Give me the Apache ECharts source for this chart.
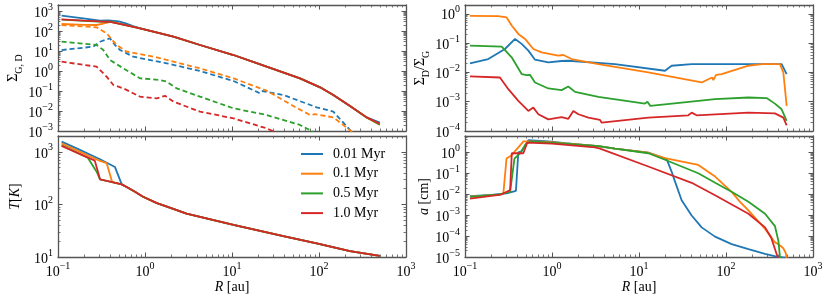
<!DOCTYPE html>
<html><head><meta charset="utf-8">
<script src="https://cdn.jsdelivr.net/npm/echarts@6/dist/echarts.min.js"></script>
<style>html,body{margin:0;padding:0;background:#fff}#c{width:830px;height:296px}</style>
</head><body><div id="c"></div>
<script>
// ---------- data ----------
const timeLabels = ['0.01 Myr', '0.1 Myr', '0.5 Myr', '1.0 Myr'];
const xDecades = [0.1, 1, 10, 100, 1000];
const sigmaTicks = [1e-3, 1e-2, 1e-1, 1, 10, 100, 1000];
const ratioTicks = [1e-4, 1e-3, 1e-2, 1e-1, 1];
const tempTicks = [10, 100, 1000];
const sizeTicks = [1e-5, 1e-4, 1e-3, 1e-2, 1e-1, 1];

// gas surface density (solid), [R au, Sigma_G]
const gas001 = [[0.11,586],[0.195,431],[0.304,330],[0.38,340],[0.5,300],[0.6,240],[0.73,175],[0.88,136],[2.12,52],[4.29,20],[10.4,6.3],[25,1.65],[60.5,0.43],[103,0.153],[146,0.063],[227,0.0178],[353,0.0048],[500,0.0026]];
const gas01 = [[0.11,224],[0.2,205],[0.278,200],[0.33,235],[0.4,290],[0.5,234],[0.88,136],[2.12,52],[4.29,20],[10.4,6.3],[25,1.65],[60.5,0.43],[103,0.153],[146,0.063],[227,0.0178],[353,0.0047],[500,0.0020]];
const gas05 = [[0.11,370],[0.2,325],[0.3,298],[0.4,291],[0.5,234],[0.88,136],[2.12,52],[4.29,20],[10.4,6.3],[25,1.65],[60.5,0.43],[103,0.153],[146,0.063],[227,0.0178],[353,0.0047],[500,0.0021]];
const gas1 = [[0.11,384],[0.2,330],[0.3,300],[0.4,290],[0.5,234],[0.88,136],[2.12,52],[4.29,20],[10.4,6.3],[25,1.65],[60.5,0.43],[103,0.153],[146,0.063],[227,0.0178],[353,0.0048],[500,0.0023]];
// dust surface density (dashed), [R au, Sigma_D]
const dust001 = [[0.11,11.2],[0.255,16.5],[0.304,29],[0.396,43],[0.452,20],[0.516,11.2],[0.734,5.2],[1.78,2.42],[4.29,1.0],[10.4,0.317],[21,0.077],[22.5,0.1],[38.9,0.063],[94,0.0153],[146,0.0093],[227,0.00112],[300,0.0004]];
const dust01 = [[0.11,200],[0.278,153],[0.362,76.6],[0.472,20],[0.615,9.3],[0.877,7],[1.36,4.8],[4.29,1.36],[10.4,0.43],[25,0.104],[50.7,0.0178],[78.8,0.0063],[90,0.0069],[146,0.0048],[227,0.0011],[290,0.0004]];
const dust05 = [[0.11,29.4],[0.278,20],[0.332,11.2],[0.396,3.56],[0.564,1.36],[0.877,0.43],[1.49,0.356],[1.78,0.294],[2.31,0.136],[4.29,0.0522],[10.4,0.0136],[25,0.0063],[60.5,0.002],[86,0.0009]];
const dust1 = [[0.11,2.94],[0.278,1.65],[0.362,0.52],[0.433,0.2],[0.564,0.136],[0.877,0.0522],[1.36,0.0425],[1.70,0.0575],[2.12,0.0294],[4.29,0.0093],[10.4,0.0043],[25,0.00136],[32.6,0.0008]];
// dust-to-gas ratio
const ratio001 = [[0.114,0.0204],[0.185,0.0286],[0.288,0.063],[0.376,0.139],[0.448,0.094],[0.535,0.0553],[0.638,0.0272],[0.908,0.022],[1.29,0.0245],[1.54,0.025],[5.3,0.0193],[19.9,0.0114],[23.7,0.0169],[40.3,0.0193],[436,0.0193],[498,0.0088]];
const ratio01 = [[0.114,0.85],[0.241,0.83],[0.301,0.75],[0.344,0.40],[0.41,0.206],[0.49,0.139],[0.61,0.063],[0.76,0.0485],[1.18,0.0373],[1.35,0.0393],[1.68,0.0286],[3.41,0.0193],[12.8,0.01],[52.5,0.00454],[69,0.0067],[71.5,0.0055],[77,0.0082],[89.2,0.00877],[181,0.0169],[257,0.0193],[417,0.0193],[456,0.01],[498,0.00072]];
const ratio05 = [[0.114,0.082],[0.264,0.076],[0.344,0.0327],[0.448,0.00877],[0.512,0.0081],[0.558,0.0083],[0.638,0.00454],[0.908,0.00283],[1.29,0.00248],[1.54,0.0033],[1.84,0.00217],[3.41,0.00146],[11.7,0.000865],[12.5,0.00099],[13.5,0.00072],[30.9,0.000936],[74.8,0.00122],[181,0.00139],[293,0.00133],[365,0.00086],[436,0.00055],[498,0.00022]];
const ratio1 = [[0.114,0.0073],[0.252,0.0067],[0.315,0.00268],[0.41,0.00107],[0.535,0.000485],[0.61,0.00063],[0.697,0.000373],[0.908,0.00025],[1.29,0.0003],[1.54,0.00026],[1.76,0.000485],[2.01,0.000373],[2.62,0.000286],[3.56,0.000238],[3.73,0.000193],[12.8,0.000286],[36.9,0.000344],[40.3,0.000425],[46,0.000344],[181,0.000425],[365,0.0004],[456,0.000286],[498,0.000156]];
// temperature
const temp001 = [[0.11,1563],[0.164,1161],[0.304,721],[0.452,513],[0.54,240],[0.615,215],[0.75,178],[0.95,140],[1.37,106],[2.0,85],[3.0,67],[10.4,41],[38.9,25],[94,18.1],[227,12.9],[500,10.5]];
const temp01 = [[0.11,1449],[0.304,670],[0.362,612],[0.42,265],[0.54,240],[0.615,215],[0.75,178],[0.95,140],[1.37,106],[2.0,85],[3.0,67],[10.4,41],[38.9,25],[94,18.1],[227,12.9],[500,10.5]];
const temp05 = [[0.11,1330],[0.22,770],[0.278,420],[0.304,300],[0.42,265],[0.54,240],[0.615,215],[0.75,178],[0.95,140],[1.37,106],[2.0,85],[3.0,67],[10.4,41],[38.9,25],[94,18.1],[227,12.9],[500,10.5]];
const temp1 = [[0.11,1300],[0.265,680],[0.304,300],[0.42,265],[0.54,240],[0.615,215],[0.75,178],[0.95,140],[1.37,106],[2.0,85],[3.0,67],[10.4,41],[38.9,25],[94,18.1],[227,12.9],[500,10.5]];
// particle size
const size001 = [[0.114,0.008],[0.2,0.0092],[0.3,0.0108],[0.385,0.0145],[0.41,1.0],[0.448,1.12],[0.535,3.8],[0.908,3.3],[1.41,2.7],[3.41,1.95],[5.3,1.5],[12.8,0.97],[20.8,0.47],[23.7,0.12],[25.6,0.047],[30.9,0.0051],[40.3,0.00096],[52.5,0.00026],[74.8,9.4e-5],[116,4.1e-5],[181,2.35e-5],[281,1.4e-5],[382,1.05e-5],[500,9e-6]];
const size01 = [[0.114,0.0077],[0.25,0.0096],[0.276,0.0108],[0.30,0.5],[0.34,0.7],[0.47,3.3],[0.55,3.3],[0.908,3.1],[1.41,2.65],[3.41,1.95],[5.3,1.5],[12.8,0.95],[19.9,0.53],[48,0.25],[75,0.069],[116,0.0128],[145,0.0043],[181,0.00168],[281,0.00022],[365,5e-5],[400,4.1e-5],[456,2.6e-5],[485,1.6e-5],[500,9e-6]];
const size05 = [[0.114,0.0074],[0.25,0.0098],[0.276,0.0108],[0.33,0.013],[0.37,0.5],[0.43,0.9],[0.5,2.5],[0.56,3.2],[0.908,3.0],[1.41,2.6],[3.41,1.95],[5.3,1.5],[12.8,0.9],[19.9,0.44],[30.9,0.21],[48,0.1],[75,0.035],[116,0.013],[181,0.0043],[281,0.00116],[365,0.0003],[400,6e-5],[417,1e-5],[430,5e-6]];
const size1 = [[0.114,0.0062],[0.26,0.0096],[0.33,0.0156],[0.345,0.9],[0.468,0.9],[0.52,2.9],[1.0,2.6],[3.12,1.7],[3.5,1.55],[12.8,0.21],[40.3,0.035],[74.8,0.0089],[181,0.00116],[281,0.00026],[330,8.6e-5],[392,1e-5],[410,7e-6]];

const gasSets = [gas001, gas01, gas05, gas1];
const dustSets = [dust001, dust01, dust05, dust1];
const ratioSets = [ratio001, ratio01, ratio05, ratio1];
const tempSets = [temp001, temp01, temp05, temp1];
const sizeSets = [size001, size01, size05, size1];

// ---------- styling ----------
const colors = ['#1f77b4', '#ff7f0e', '#2ca02c', '#d62728'];
const FONT = '"Liberation Serif", "DejaVu Serif", serif';
const FRAME = '#555';
const supRich = {
  b: {fontFamily: FONT, fontSize: 14, color: '#000', lineHeight: 18, verticalAlign: 'bottom'},
  s: {fontFamily: FONT, fontSize: 10, color: '#000', lineHeight: 10, verticalAlign: 'top'}
};
const nameRich = {
  m: {fontFamily: FONT, fontSize: 14, color: '#000', lineHeight: 18, verticalAlign: 'top'},
  i: {fontFamily: FONT, fontSize: 14, color: '#000', fontStyle: 'italic', lineHeight: 18, verticalAlign: 'top'},
  sub: {fontFamily: FONT, fontSize: 10, color: '#000', lineHeight: 10, verticalAlign: 'bottom'}
};
function sup(v) {
  const e = Math.round(Math.log10(v));
  return '{b|10}{s|' + (e < 0 ? '\u2212' + (-e) : String(e)) + '}';
}
function minorOf(major, min, max) {
  const out = [];
  major.forEach(d => { for (let k = 2; k <= 9; k++) out.push(+(k * d).toPrecision(3)); });
  return out.filter(v => v > min * 1.0001 && v < max * 0.9999);
}

const grids = [
  {left: 58, top: 5, width: 348, height: 126},
  {left: 465, top: 5, width: 348, height: 126},
  {left: 58, top: 136, width: 348, height: 121},
  {left: 465, top: 136, width: 348, height: 121}
].map(g => Object.assign({containLabel: false, outerBoundsMode: 'none'}, g));

const xAxes = [], yAxes = [];
function addAxes(list, dim, g, min, max, major, showLabels, name, nameGap) {
  const posA = dim === 'x' ? 'bottom' : 'left';
  const posB = dim === 'x' ? 'top' : 'right';
  const minor = minorOf(major, min, max);
  const base = {type: 'log', logBase: 10, gridIndex: g, min: min, max: max,
    splitLine: {show: false}, splitArea: {show: false}, minorTick: {show: false}, minorSplitLine: {show: false}, silent: true};
  const frameLine = {show: true, onZero: false, lineStyle: {color: FRAME, width: 1.3}};
  const majorTick = {show: true, inside: true, length: 4.5, customValues: major, lineStyle: {color: FRAME, width: 1}};
  const minorTick = {show: true, inside: true, length: 2.5, customValues: minor, lineStyle: {color: FRAME, width: 0.8}};
  const start = list.length;
  list.push(Object.assign({}, base, {position: posA, axisLine: frameLine, axisTick: majorTick,
    axisLabel: {show: showLabels, customValues: major, formatter: sup, rich: supRich, margin: dim === 'x' ? 4 : 5},
    name: name || '', nameLocation: 'middle', nameGap: nameGap || 0,
    nameTextStyle: {fontFamily: FONT, fontSize: 14, color: '#000', rich: nameRich}}));
  list.push(Object.assign({}, base, {position: posB, axisLine: frameLine, axisTick: majorTick, axisLabel: {show: false}}));
  list.push(Object.assign({}, base, {position: posA, axisLine: {show: false}, axisTick: minorTick, axisLabel: {show: false}}));
  list.push(Object.assign({}, base, {position: posB, axisLine: {show: false}, axisTick: minorTick, axisLabel: {show: false}}));
  return start;
}

const xIdx = [], yIdx = [];
xIdx[0] = addAxes(xAxes, 'x', 0, 0.1, 1000, xDecades, false);
xIdx[1] = addAxes(xAxes, 'x', 1, 0.1, 1000, xDecades, false);
xIdx[2] = addAxes(xAxes, 'x', 2, 0.1, 1000, xDecades, true, '{i|R}{m| [au]}', 16);
xIdx[3] = addAxes(xAxes, 'x', 3, 0.1, 1000, xDecades, true, '{i|R}{m| [au]}', 16);
yIdx[0] = addAxes(yAxes, 'y', 0, 1e-3, 2000, sigmaTicks, true, '{m|\u03A3}{sub|G, D}', 30);
yIdx[1] = addAxes(yAxes, 'y', 1, 1e-4, 2, ratioTicks, true, '{m|\u03A3}{sub|D}{m|/\u03A3}{sub|G}', 28);
yIdx[2] = addAxes(yAxes, 'y', 2, 10, 2000, tempTicks, true, '{i|T}{m|[}{i|K}{m|]}', 32);
yIdx[3] = addAxes(yAxes, 'y', 3, 1e-5, 6, sizeTicks, true, '{i|a}{m| [cm]}', 30);

const series = [];
function addLine(g, name, data, color, dashed) {
  series.push({type: 'line', name: name, xAxisIndex: xIdx[g], yAxisIndex: yIdx[g], data: data,
    showSymbol: false, symbol: 'none', clip: true, smooth: false, silent: true,
    lineStyle: {color: color, width: 1.8, type: dashed ? [5, 3] : 'solid'}, itemStyle: {color: color}});
}
for (let i = 0; i < 4; i++) {
  addLine(0, timeLabels[i], gasSets[i], colors[i], false);
  addLine(0, timeLabels[i], dustSets[i], colors[i], true);
}
for (let i = 0; i < 4; i++) addLine(1, timeLabels[i], ratioSets[i], colors[i], false);
for (let i = 0; i < 4; i++) addLine(2, timeLabels[i], tempSets[i], colors[i], false);
for (let i = 0; i < 4; i++) addLine(3, timeLabels[i], sizeSets[i], colors[i], false);

const chart = echarts.init(document.getElementById('c'), null, {renderer: 'canvas'});
chart.setOption({
  animation: false,
  backgroundColor: '#fff',
  grid: grids,
  xAxis: xAxes,
  yAxis: yAxes,
  legend: {
    data: timeLabels.map((n, i) => ({name: n, icon: 'rect', itemStyle: {color: colors[i]}})),
    orient: 'vertical', left: 301, top: 147, padding: 0,
    itemWidth: 22, itemHeight: 2, itemGap: 5.7, selectedMode: false,
    textStyle: {fontFamily: FONT, fontSize: 14, color: '#000', lineHeight: 14, padding: [0, 0, 0, 5]}
  },
  series: series
});
</script>
</body></html>
